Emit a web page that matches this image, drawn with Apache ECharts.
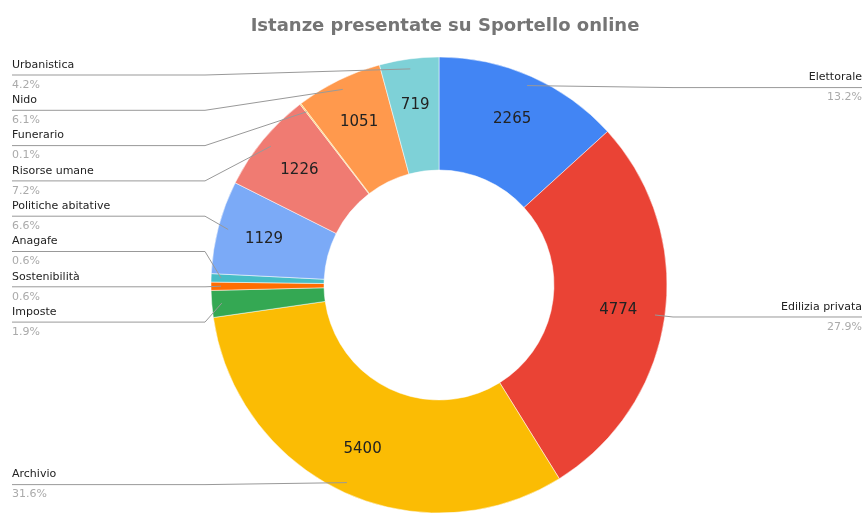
<!DOCTYPE html>
<html>
<head>
<meta charset="utf-8">
<script src="https://cdn.jsdelivr.net/npm/echarts@6/dist/echarts.min.js"></script>
<style>
html,body{margin:0;padding:0;background:#fff;}
#pie1{width:867px;height:516px;}
</style>
</head>
<body>
<div id="pie1"></div>
<script>
// Istanze presentate su Sportello online
var categorie = ['Elettorale','Edilizia privata','Archivio','Imposte','Sostenibilità','Anagafe','Politiche abitative','Risorse umane','Funerario','Nido','Urbanistica']
var valori = [2265, 4774, 5400, 325, 100, 101, 1129, 1226, 15, 1051, 719]
var colori = ['#4285f4','#ea4335','#fbbc04','#34a853','#ff6d01','#46bdc6','#7baaf7','#f07b72','#fcd04f','#ff994d','#7ed1d7']

var dati = []
categorie.forEach(function(val,index){
    dati.push({name:val, value:valori[index]})
})

// impaginazione
var cx = 439, cy = 285, rIn = 115, rOut = 228
var rAncora = 218
var bordoSx = 12, bordoDx = 862
var gomitoSx = 205, gomitoDx = 673
var pilaTop = 75, pilaPasso = 35.3   // etichette a sinistra (Imposte .. Urbanistica)
var font = 'DejaVu Sans'

function posEtichetta(params){
    var pts = params.labelLinePoints
    if (!pts) return {}
    var dx = pts[0][0] - cx, dy = pts[0][1] - cy
    var d = Math.sqrt(dx*dx + dy*dy)
    var ax = cx + dx / d * rAncora, ay = cy + dy / d * rAncora
    var i = params.dataIndex
    var y = (i >= 3) ? pilaTop + (categorie.length - 1 - i) * pilaPasso : ay + 2
    if (ax < cx) {
        return {x: bordoSx, y: y, align: 'left', verticalAlign: 'middle',
                labelLinePoints: [[ax, ay], [gomitoSx, y], [bordoSx, y]]}
    }
    return {x: bordoDx, y: y, align: 'right', verticalAlign: 'middle',
            labelLinePoints: [[ax, ay], [gomitoDx, y], [bordoDx, y]]}
}

function charts1(){
    var myCharts = echarts.init(document.getElementById('pie1'))
    myCharts.setOption({
        backgroundColor:'#fff',
        color: colori,
        textStyle: {fontFamily: font},
        title: {
            text: 'Istanze presentate su Sportello online',
            left: 440,
            textAlign: 'center',
            top: 12,
            textStyle: {fontSize:18, fontWeight:'bold', color:'#757575', fontFamily: font}
        },
        series: [
            {
                // fette
                type: 'pie',
                z: 2,
                center: [cx, cy],
                radius: [rIn, rOut],
                startAngle: 90,
                clockwise: true,
                itemStyle: {borderColor:'#fff', borderWidth:0.5},
                label: {show:false},
                labelLine: {show:false},
                data: dati
            },
            {
                // valori dentro le fette
                type: 'pie',
                z: 3,
                center: [cx, cy],
                radius: [128, rOut],
                startAngle: 90,
                silent: true,
                itemStyle: {color:'transparent'},
                label: {
                    show: true,
                    position: 'inside',
                    color: '#222',
                    fontSize: 15,
                    fontFamily: font,
                    formatter: function(p){ return p.percent >= 2 ? p.value : '' }
                },
                labelLine: {show:false},
                data: dati
            },
            {
                // etichette esterne con linee sopra le fette
                type: 'pie',
                z: 5,
                center: [cx, cy],
                radius: [rIn, rOut],
                startAngle: 90,
                silent: true,
                percentPrecision: 1,
                itemStyle: {color:'transparent'},
                label: {
                    show: true,
                    position: 'outside',
                    formatter: '{n|{b}}\n{p|{d}%}',
                    rich: {
                        n: {color:'#222', fontSize:11, lineHeight:20, fontFamily: font},
                        p: {color:'#aaa', fontSize:11, lineHeight:20, fontFamily: font}
                    }
                },
                labelLine: {
                    show: true,
                    length: 10,
                    length2: 10,
                    lineStyle: {color:'#999', width:1}
                },
                labelLayout: posEtichetta,
                data: dati
            }
        ]
    }, true)
}
charts1()
</script>
</body>
</html>
